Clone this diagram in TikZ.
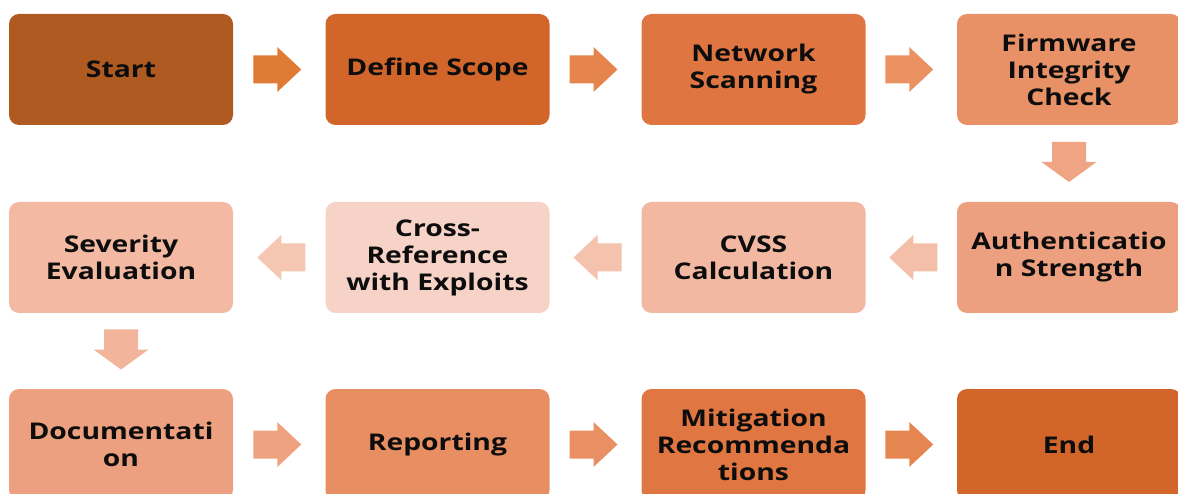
\documentclass[tikz,border=0pt]{standalone}
\usepackage{fontspec}
\newfontfamily\boxfont{Open Sans}[FakeStretch=1.23]
\usetikzlibrary{calc}

% box fills
\definecolor{cStart}{HTML}{AE5A21}
\definecolor{cScope}{HTML}{D2662A}
\definecolor{cScan}{HTML}{DF7641}
\definecolor{cFirm}{HTML}{E89166}
\definecolor{cAuth}{HTML}{EDA07F}
\definecolor{cCvss}{HTML}{F2B8A2}
\definecolor{cCross}{HTML}{F7D3C7}
\definecolor{cSev}{HTML}{F3B9A3}
\definecolor{cDoc}{HTML}{EDA07F}
\definecolor{cRep}{HTML}{E78E62}
\definecolor{cMit}{HTML}{E07641}
\definecolor{cEnd}{HTML}{D2662A}
% arrow fills
\definecolor{aA}{HTML}{E07B35}
\definecolor{aB}{HTML}{E5844C}
\definecolor{aC}{HTML}{EA9262}
\definecolor{aD}{HTML}{EFA584}
\definecolor{aE}{HTML}{F3BFA9}
\definecolor{aF}{HTML}{F4C2AD}
\definecolor{aG}{HTML}{F5C6B2}
\definecolor{aH}{HTML}{F2B49B}
\definecolor{aI}{HTML}{EEA27F}
\definecolor{aJ}{HTML}{E89063}
\definecolor{aK}{HTML}{E5854F}

% block arrow: #1 centre, #2 angle, #3 colour, #4 offset of the tail,
% #5 shaft length, #6 head length, #7 shaft half width, #8 head half width
\newcommand\blockarrow[8]{%
  \begin{scope}[shift={#1}, rotate=#2]
    \fill[#3] (-#4,-#7) -- ++(#5,0) |- (-#4+#5,-#8) -- (-#4+#5+#6,0)
      -- (-#4+#5,#8) |- (-#4+#5,#7) -- (-#4,#7) -- cycle;
  \end{scope}}
\newcommand\rightarrowblock[3]{\blockarrow{($(#1.east)!0.5!(#2.west)$)}{0}{#3}{26}{24}{24}{14}{22.5}}
\newcommand\leftarrowblock[3]{\blockarrow{($(#1.west)!0.5!(#2.east)$)}{180}{#3}{26}{24}{24}{14}{22.5}}
\newcommand\downarrowblock[3]{\blockarrow{($(#1.south)!0.5!(#2.north)$)}{-90}{#3}{21.5}{20}{20}{17}{27.5}}

\begin{document}
\begin{tikzpicture}[x=1pt, y=-1pt,
  stage/.style={rounded corners=10pt, minimum width=224pt, minimum height=111pt,
    inner sep=0pt, align=center, text=black!95,
    font=\boxfont\bfseries\fontsize{23}{27}\selectfont}]
  \useasboundingbox (0,0) rectangle (1178,494);
  \clip (0,0) rectangle (1178,494);

  % first row
  \node[stage, fill=cStart] (start) at (121,69.5)    {Start};
  \node[stage, fill=cScope] (scope) at (437.5,69.5)  {Define Scope};
  \node[stage, fill=cScan]  (scan)  at (753.5,69.5)  {Network\\Scanning};
  \node[stage, fill=cFirm]  (firm)  at (1069,69.5)   {Firmware\\Integrity\\Check};
  % second row
  \node[stage, fill=cAuth]  (auth)  at (1069,257.5)  {Authenticatio\\n Strength};
  \node[stage, fill=cCvss]  (cvss)  at (753.5,257.5) {CVSS\\Calculation};
  \node[stage, fill=cCross] (cross) at (437.5,257.5) {Cross-\\Reference\\with Exploits};
  \node[stage, fill=cSev]   (sev)   at (121,257.5)   {Severity\\Evaluation};
  % third row
  \node[stage, fill=cDoc]   (doc)   at (121,444.5)   {Documentati\\on};
  \node[stage, fill=cRep]   (rep)   at (437.5,444.5) {Reporting};
  \node[stage, fill=cMit]   (mit)   at (753.5,444.5) {Mitigation\\Recommenda\\tions};
  \node[stage, fill=cEnd]   (end)   at (1069,444.5)  {End};

  % connectors
  \rightarrowblock{start}{scope}{aA}
  \rightarrowblock{scope}{scan}{aB}
  \rightarrowblock{scan}{firm}{aC}
  \downarrowblock{firm}{auth}{aD}
  \leftarrowblock{auth}{cvss}{aE}
  \leftarrowblock{cvss}{cross}{aF}
  \leftarrowblock{cross}{sev}{aG}
  \downarrowblock{sev}{doc}{aH}
  \rightarrowblock{doc}{rep}{aI}
  \rightarrowblock{rep}{mit}{aJ}
  \rightarrowblock{mit}{end}{aK}
\end{tikzpicture}
\end{document}
